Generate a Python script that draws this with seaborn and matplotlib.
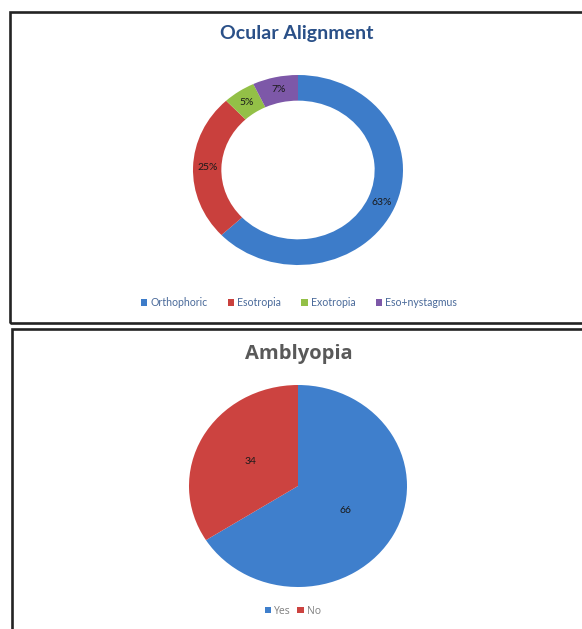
import matplotlib
matplotlib.use("Agg")
import matplotlib.pyplot as plt
import seaborn as sns
from matplotlib.patches import Rectangle, Patch

# ---- data ----
align_labels = ["Orthophoric", "Esotropia", "Exotropia", "Eso+nystagmus"]
align_values = [63, 25, 5, 7]
amb_labels = ["Yes", "No"]
amb_values = [66, 34]

sns.set_theme(style="white")
plt.rcParams['font.family'] = ['Lato', 'DejaVu Sans']

align_colors = sns.color_palette(["#3D7CC9", "#C9403D", "#93C047", "#7D58A8"])
amb_colors = sns.color_palette(["#3F7FCC", "#CC4340"])

W, H = 582, 629
fig = plt.figure(figsize=(W / 100, H / 100), dpi=100)
fig.patch.set_facecolor("white")


def px_axes(cx, cy, rx, ry):
    return fig.add_axes([(cx - rx) / W, 1 - (cy + ry) / H, 2 * rx / W, 2 * ry / H])


# ---- panel borders ----
fig.add_artist(Rectangle((10 / W, 1 - 323 / H), (620 - 10) / W, (323 - 12) / H,
                         transform=fig.transFigure, fill=False, lw=1.9, ec="#232323"))
fig.add_artist(Rectangle((11.5 / W, 1 - 660 / H), (620 - 11.5) / W, (660 - 329.5) / H,
                         transform=fig.transFigure, fill=False, lw=1.9, ec="#232323"))

# ---- top: donut ----
ax1 = px_axes(298, 170, 105, 95)
ax1.pie(align_values, colors=align_colors, startangle=90, counterclock=False,
        wedgeprops=dict(width=0.27, linewidth=0),
        autopct=lambda p: f"{p:.0f}%", pctdistance=0.865,
        textprops=dict(fontsize=7.5, color="#1a1a1a"))
ax1.set_aspect("auto")
ax1.set_xlim(-1, 1)
ax1.set_ylim(-1, 1)
ax1.axis("off")

fig.text(297 / W, 1 - 33 / H, "Ocular Alignment", ha="center", va="center",
         fontsize=14, fontweight="bold", color="#2A5088")

h1 = [Patch(facecolor=c, edgecolor="none") for c in align_colors]
leg1 = fig.legend(h1, align_labels, loc="center", bbox_to_anchor=(299 / W, 1 - 303 / H),
                  ncol=4, frameon=False, handlelength=0.6, handleheight=0.6,
                  handletextpad=0.3, columnspacing=1.9, fontsize=7.6)
for t in leg1.get_texts():
    t.set_color("#4A6A9A")

# ---- bottom: pie ----
ax2 = px_axes(298, 486, 109, 101)
ax2.pie(amb_values, colors=amb_colors, startangle=90, counterclock=False,
        wedgeprops=dict(linewidth=0),
        autopct=lambda p: f"{p * sum(amb_values) / 100:.0f}", pctdistance=0.5,
        textprops=dict(fontsize=7.5, color="#1a1a1a"))
ax2.set_aspect("auto")
ax2.set_xlim(-1, 1)
ax2.set_ylim(-1, 1)
ax2.axis("off")

fig.text(299 / W, 1 - 354 / H, "Amblyopia", ha="center", va="center",
         fontsize=14.5, fontweight="bold", color="#595959", family=["Open Sans", "DejaVu Sans"])

h2 = [Patch(facecolor=c, edgecolor="none") for c in amb_colors]
leg2 = fig.legend(h2, amb_labels, loc="center", bbox_to_anchor=(293 / W, 1 - 611 / H),
                  ncol=2, frameon=False, handlelength=0.6, handleheight=0.6,
                  handletextpad=0.3, columnspacing=0.6,
                  prop=dict(family=["Open Sans", "DejaVu Sans"], size=7.5))
for t in leg2.get_texts():
    t.set_color("#7F7F7F")

fig.savefig("out.png", dpi=100, facecolor="white")
